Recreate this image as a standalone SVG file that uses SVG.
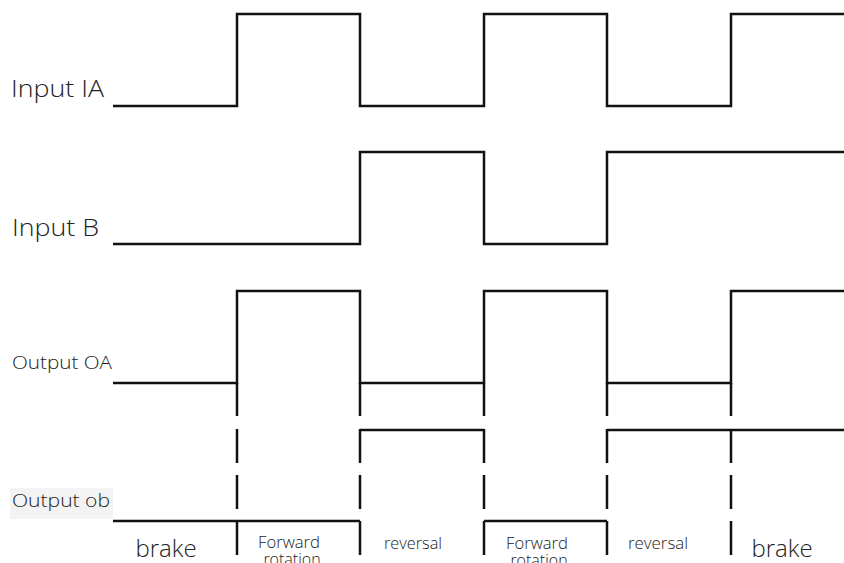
<svg xmlns="http://www.w3.org/2000/svg" width="844" height="563" viewBox="0 0 844 563">
<style>
.sig{fill:none;stroke:#111;stroke-width:2.5;stroke-linejoin:miter;stroke-linecap:butt}
.div{fill:none;stroke:#111;stroke-width:2.5}
text{font-family:"Open Sans","Liberation Sans",sans-serif;font-weight:300;fill:#222}
.lbl{font-size:23px}
.lbl2{font-size:18px}
.ph{font-size:16px;text-anchor:middle}
.big{font-size:24px;text-anchor:middle}
</style>
<rect width="844" height="563" fill="#fff"/>
<g id="label-ia"><text class="lbl" x="11" y="97" textLength="93" lengthAdjust="spacingAndGlyphs">Input IA</text></g>
<g id="label-b"><text class="lbl" x="12" y="236" textLength="87" lengthAdjust="spacingAndGlyphs">Input B</text></g>
<g id="label-oa"><text class="lbl2" x="12" y="369" textLength="100" lengthAdjust="spacingAndGlyphs">Output OA</text></g>
<g id="label-ob"><rect x="10" y="488" width="103" height="31" fill="#f3f3f3"/><text class="lbl2" x="12" y="507" textLength="98" lengthAdjust="spacingAndGlyphs">Output ob</text></g>
<g id="signals">
<path id="sig-ia" class="sig" d="M113,106 H237 V14 H360 V106 H484 V14 H607 V106 H731 V14 H844"/>
<path id="sig-b" class="sig" d="M113,244 H360 V152 H484 V244 H607 V152 H844"/>
<path id="sig-oa" class="sig" d="M113,383 H237 V291 H360 V383 H484 V291 H607 V383 H731 V291 H844"/>
<path id="sig-ob" class="sig" d="M113,521 H360 M360,430 H484 M484,521 H607 M607,430 H844"/>
</g>
<g id="dividers">
<path class="div" d="M237,383V416M237,429V463M237,475V509M237,521V555"/>
<path class="div" d="M360,383V416M360,429V463M360,475V509M360,521V555"/>
<path class="div" d="M484,383V416M484,429V463M484,475V509M484,521V555"/>
<path class="div" d="M607,383V416M607,429V463M607,475V509M607,521V555"/>
<path class="div" d="M731,383V416M731,429V463M731,475V509M731,521V555"/>
</g>
<g id="phases">
<text class="big" x="166" y="557">brake</text>
<text class="ph" x="289" y="548" textLength="62" lengthAdjust="spacingAndGlyphs">Forward</text>
<text class="ph" x="292" y="565">rotation</text>
<text class="ph" x="413" y="549" textLength="58" lengthAdjust="spacingAndGlyphs">reversal</text>
<text class="ph" x="537" y="549" textLength="62" lengthAdjust="spacingAndGlyphs">Forward</text>
<text class="ph" x="539" y="566">rotation</text>
<text class="ph" x="658" y="549" textLength="60" lengthAdjust="spacingAndGlyphs">reversal</text>
<text class="big" x="782" y="557">brake</text>
</g>
</svg>
